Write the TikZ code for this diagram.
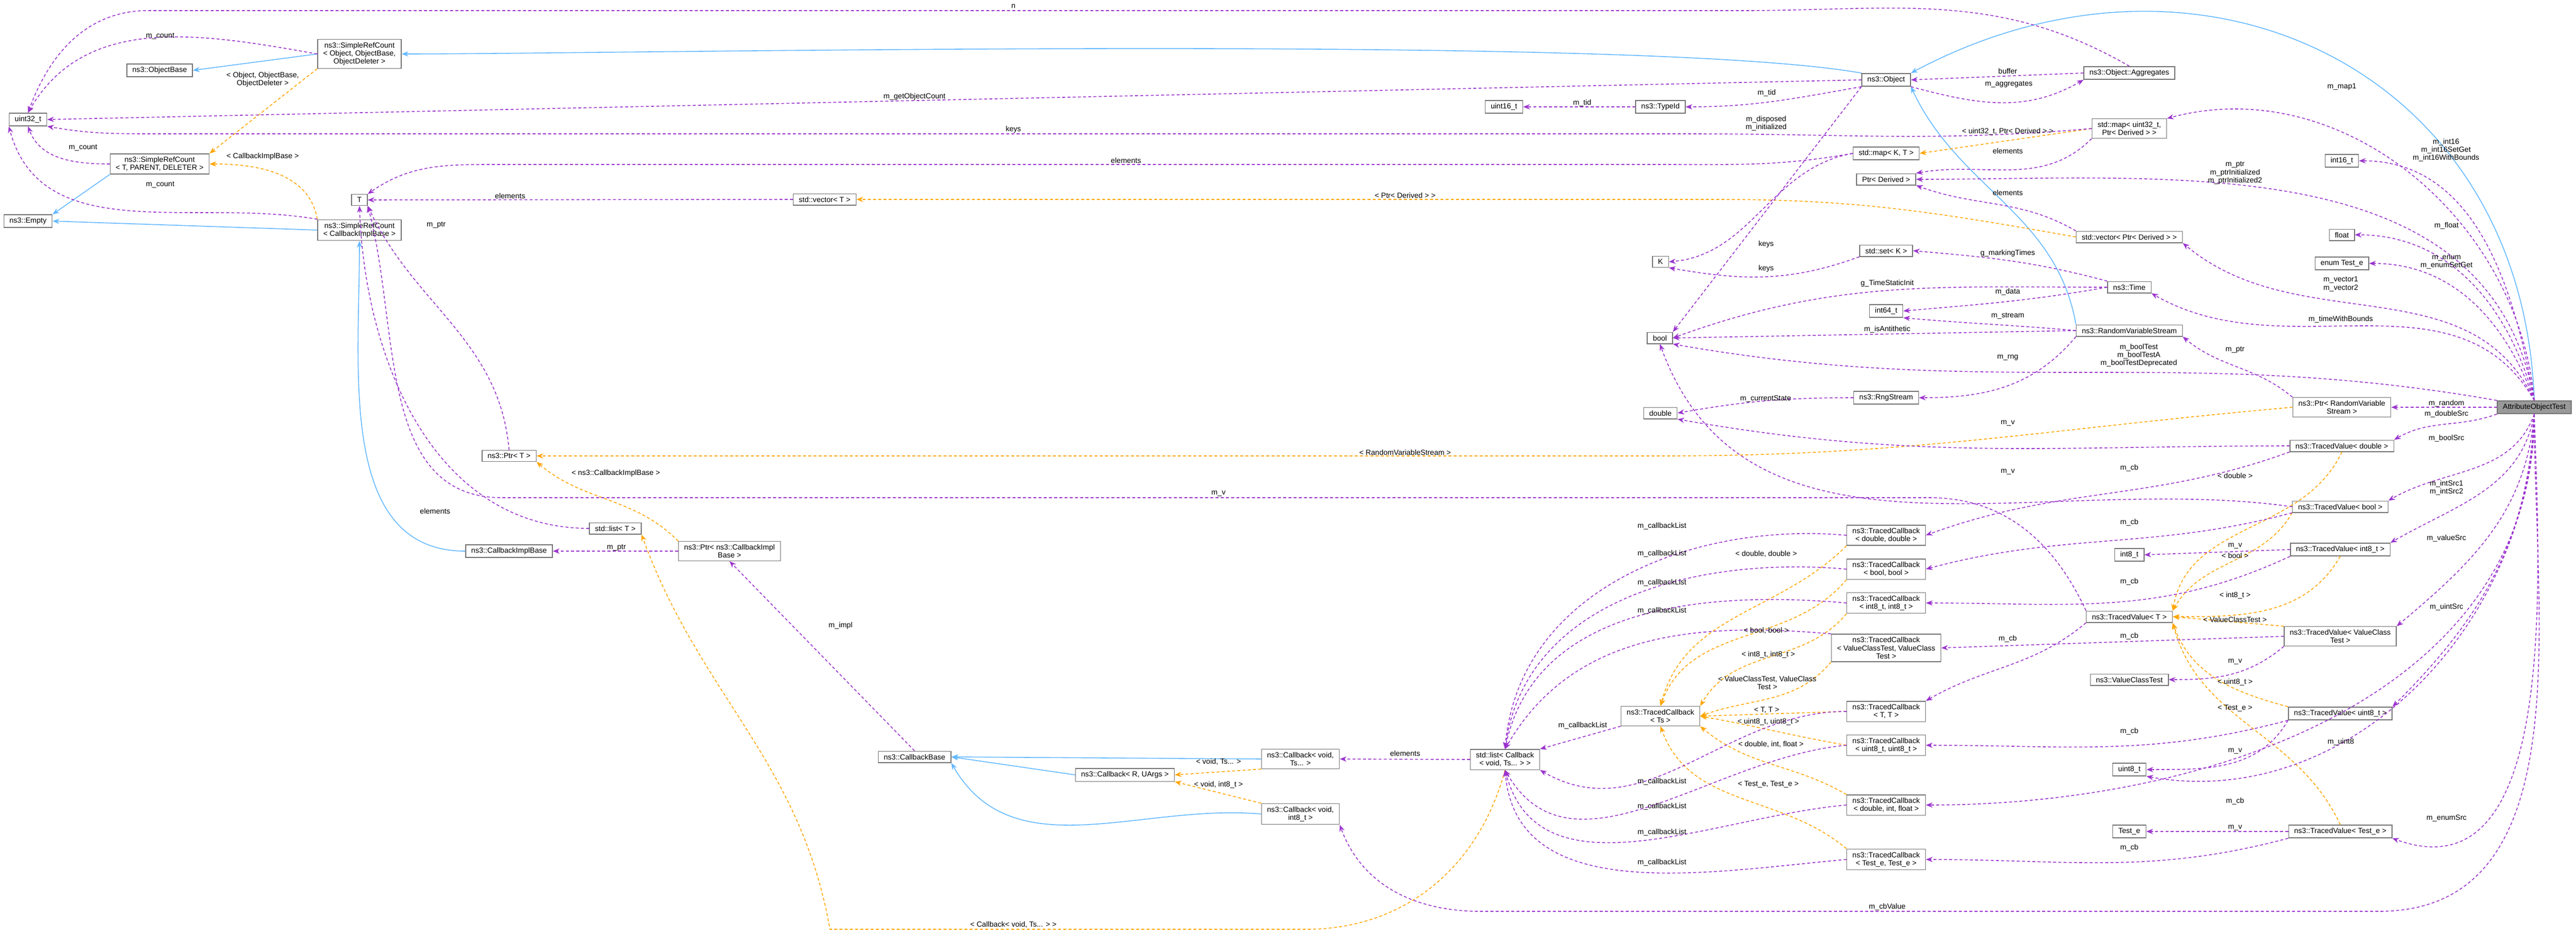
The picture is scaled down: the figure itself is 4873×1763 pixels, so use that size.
\documentclass[tikz,border=0pt]{standalone}
\usepackage{fontspec}
\setmainfont{Liberation Sans}
\usetikzlibrary{arrows.meta}
\definecolor{mem}{HTML}{9A32CD}
\definecolor{inh}{HTML}{63B8FF}
\definecolor{tpl}{HTML}{FFA500}
\begin{document}
\begin{tikzpicture}[x=0.01cm,y=-0.01cm,
  box/.style={draw=black!55,fill=white,inner xsep=3pt,inner ysep=1.6pt,align=center,font=\fontsize{4}{4.3}\selectfont},
  lab/.style={inner sep=0.3pt,align=center,font=\fontsize{4}{4.3}\selectfont},
  memb/.style={draw=mem,line width=0.45pt,dash pattern=on 1.6pt off 1.2pt,-{Stealth[length=3.6pt,width=2.8pt]}},
  inhb/.style={draw=inh,line width=0.45pt,-{Stealth[length=3.6pt,width=2.8pt]}},
  tplb/.style={draw=tpl,line width=0.45pt,dash pattern=on 1.6pt off 1.2pt,-{Stealth[length=3.6pt,width=2.8pt]}}]
\useasboundingbox (0,0) rectangle (4873,1763);
% left side
\node[box] (uint32) at (53,226) {uint32\_t};
\node[box] (objbase) at (302,133) {ns3::ObjectBase};
\node[box] (srcobj) at (680,102) {ns3::SimpleRefCount\\< Object, ObjectBase,\\ObjectDeleter >};
\node[box] (srcT) at (302,310) {ns3::SimpleRefCount\\< T, PARENT, DELETER >};
\node[box] (empty) at (53,418) {ns3::Empty};
\node[box] (srcC) at (680,435) {ns3::SimpleRefCount\\< CallbackImplBase >};
\node[box] (T) at (680,378) {T};
\node[box] (vecT) at (1560,377) {std::vector< T >};
\node[box] (ptrT) at (963,862) {ns3::Ptr< T >};
\node[box] (listT) at (1164,999) {std::list< T >};
\node[box] (cimpl) at (963,1042) {ns3::CallbackImplBase};
\node[box] (ptrC) at (1380,1042) {ns3::Ptr< ns3::CallbackImpl\\Base >};
% middle
\node[box] (u16) at (2845,202) {uint16\_t};
\node[box] (typeid) at (3141,202) {ns3::TypeId};
\node[box] (K) at (3141,495) {K};
\node[box] (bool) at (3140,639) {bool};
\node[box] (double) at (3141,781) {double};
\node[box] (cbb) at (1730,1431) {ns3::CallbackBase};
\node[box] (cbv) at (2460,1435) {ns3::Callback< void,\\Ts... >};
\node[box] (cbr) at (2128,1465) {ns3::Callback< R, UArgs >};
\node[box] (cbi8) at (2460,1539) {ns3::Callback< void,\\int8\_t >};
\node[box] (listCB) at (2847,1436) {std::list< Callback\\< void, Ts... > >};
\node[box] (tcTs) at (3141,1354) {ns3::TracedCallback\\< Ts >};
% right side
\node[box] (object) at (3568,151) {ns3::Object};
\node[box] (agg) at (4028,138) {ns3::Object::Aggregates};
\node[box] (mapu) at (4028,243) {std::map< uint32\_t,\\Ptr< Derived > >};
\node[box] (mapKT) at (3568,290) {std::map< K, T >};
\node[box] (ptrD) at (3568,339) {Ptr< Derived >};
\node[box] (i16) at (4430,304) {int16\_t};
\node[box] (vecPD) at (4028,448) {std::vector< Ptr< Derived > >};
\node[box] (float) at (4430,444) {float};
\node[box] (enum) at (4430,498) {enum Test\_e};
\node[box] (setK) at (3568,474) {std::set< K >};
\node[box] (time) at (4028,543) {ns3::Time};
\node[box] (i64) at (3568,588) {int64\_t};
\node[box] (rvs) at (4028,625) {ns3::RandomVariableStream};
\node[box] (rng) at (3568,752) {ns3::RngStream};
\node[box] (ptrR) at (4430,770) {ns3::Ptr< RandomVariable\\Stream >};
\node[box,fill=black!40] (attr) at (4794,770) {AttributeObjectTest};
\node[box] (tvd) at (4430,843) {ns3::TracedValue< double >};
\node[box] (tcdd) at (3568,1012) {ns3::TracedCallback\\< double, double >};
\node[box] (tcbb) at (3568,1076) {ns3::TracedCallback\\< bool, bool >};
\node[box] (tcii) at (3568,1140) {ns3::TracedCallback\\< int8\_t, int8\_t >};
\node[box] (tcvv) at (3568,1225) {ns3::TracedCallback\\< ValueClassTest, ValueClass\\Test >};
\node[box] (tcTT) at (3568,1345) {ns3::TracedCallback\\< T, T >};
\node[box] (tcuu) at (3568,1409) {ns3::TracedCallback\\< uint8\_t, uint8\_t >};
\node[box] (tcdif) at (3568,1522) {ns3::TracedCallback\\< double, int, float >};
\node[box] (tcee) at (3568,1625) {ns3::TracedCallback\\< Test\_e, Test\_e >};
\node[box] (tvb) at (4427,958) {ns3::TracedValue< bool >};
\node[box] (i8) at (4028,1049) {int8\_t};
\node[box] (tvi8) at (4427,1039) {ns3::TracedValue< int8\_t >};
\node[box] (tvT) at (4028,1166) {ns3::TracedValue< T >};
\node[box] (tvv) at (4427,1203) {ns3::TracedValue< ValueClass\\Test >};
\node[box] (vct) at (4028,1285) {ns3::ValueClassTest};
\node[box] (tvu8) at (4427,1349) {ns3::TracedValue< uint8\_t >};
\node[box] (u8) at (4028,1455) {uint8\_t};
\node[box] (teT) at (4028,1572) {Test\_e};
\node[box] (tve) at (4427,1572) {ns3::TracedValue< Test\_e >};

%%%% inheritance
\draw[inhb] (srcobj.west) -- (objbase.east);
\draw[inhb] (object.north west) to[out=170,in=0,looseness=0.4] (srcobj.east);
\draw[inhb] (attr.north) to[out=92,in=28,looseness=1.2] (object.north east);
\draw[inhb] (rvs.north west) to[out=100,in=-65] (object.south east);
\draw[inhb] (srcT.south west) -- (empty.north east);
\draw[inhb] (srcC.west) -- (empty.east);
\draw[inhb] (cimpl.west) to[out=180,in=-90] (srcC.south);
\draw[inhb] (cbv.west) -- (cbb.east);
\draw[inhb] (cbr.west) -- (cbb.east);
\draw[inhb] (cbi8.west) to[out=175,in=-60] (cbb.south east);

%%%% templates
\draw[tplb] (srcobj.south west) -- (srcT.north east);
\draw[tplb] (srcC.north west) to[out=100,in=0] (srcT.east);
\draw[tplb] (mapu.west) -- (mapKT.east);
\draw[tplb] (vecPD.west) to[out=170,in=0] (3250,377) -- (vecT.east);
\draw[tplb] (ptrR.west) to[out=185,in=0] (3150,862) -- (ptrT.east);
\draw[tplb] (ptrC.north west) to[out=135,in=-40] (ptrT.south east);
\draw[tplb] (listCB.south) to[out=-105,in=0] (2470,1757) -- (1570,1757) to[out=100,in=-70] (listT.south east);
\draw[tplb] (cbv.south west) -- (cbr.east);
\draw[tplb] (cbi8.north west) -- (cbr.south east);
\draw[tplb] (tvd.south) to[out=-115,in=80] (tvT.north east);
\draw[tplb] (tvb.south west) to[out=-120,in=60] (tvT.north east);
\draw[tplb] (tvi8.south) to[out=-120,in=0] (tvT.east);
\draw[tplb] (tvv.north west) -- (tvT.east);
\draw[tplb] (tvu8.north west) to[out=165,in=-70] (tvT.south east);
\draw[tplb] (tve.north) to[out=115,in=-75] (tvT.south east);
\draw[tplb] (tcdd.south west) to[out=-135,in=75] (tcTs.north);
\draw[tplb] (tcbb.south west) to[out=-130,in=70] (tcTs.north);
\draw[tplb] (tcii.south west) to[out=-130,in=60] (tcTs.north east);
\draw[tplb] (tcvv.south west) to[out=-130,in=20] (tcTs.east);
\draw[tplb] (tcTT.west) -- (tcTs.east);
\draw[tplb] (tcuu.west) to[out=170,in=-10] (tcTs.east);
\draw[tplb] (tcdif.north west) to[out=150,in=-40] (tcTs.south east);
\draw[tplb] (tcee.north west) to[out=140,in=-70] (tcTs.south);

%%%% members
\draw[memb] (agg.north) to[out=150,in=0] (3300,20) -- (280,20) to[out=180,in=70] (uint32.north);
\draw[memb] (srcobj.west) to[out=170,in=60] (uint32.north);
\draw[memb] (object.west) -- (uint32.east);
\draw[memb] (mapu.west) to[out=185,in=0] (3200,253) -- (300,253) to[out=180,in=-10] (uint32.south east);
\draw[memb] (mapKT.west) to[out=190,in=0] (3150,311) -- (950,311) to[out=180,in=35] (T.north east);
\draw[memb] (vecT.west) -- (T.east);
\draw[memb] (ptrT.north) to[out=95,in=-65] (T.south east);
\draw[memb] (listT.west) to[out=180,in=-88] (T.south);
\draw[memb] (tvT.north west) to[out=115,in=0] (3650,941) -- (950,941) to[out=180,in=-75] (T.south east);
\draw[memb] (srcT.west) to[out=180,in=-70] (uint32.south);
\draw[memb] (srcC.north west) to[out=170,in=-75] (uint32.south west);
\draw[memb] (typeid.west) -- (u16.east);
\draw[memb] (object.south west) to[out=190,in=0] (typeid.east);
\draw[memb] (agg.west) -- (object.east);
\draw[memb] (object.south east) to[out=-15,in=-150] (agg.south west);
\draw[memb] (object.south west) -- (bool.north east);
\draw[memb] (mapu.south west) to[out=-135,in=10] (ptrD.north east);
\draw[memb] (attr.north) to[out=95,in=15] (mapu.north east);
\draw[memb] (attr.north) to[out=100,in=0] (i16.east);
\draw[memb] (attr.north) to[out=100,in=0] (ptrD.east);
\draw[memb] (vecPD.north west) to[out=150,in=-20] (ptrD.south east);
\draw[memb] (mapKT.west) to[out=190,in=5] (K.east);
\draw[memb] (setK.south west) to[out=200,in=-10] (K.south east);
\draw[memb] (attr.north) to[out=105,in=0] (float.east);
\draw[memb] (attr.north) to[out=110,in=0] (enum.east);
\draw[memb] (attr.north) to[out=115,in=-40] (vecPD.south east);
\draw[memb] (time.north west) to[out=165,in=-5] (setK.east);
\draw[memb] (time.west) to[out=180,in=20] (bool.east);
\draw[memb] (time.west) to[out=190,in=5] (i64.east);
\draw[memb] (attr.north) to[out=120,in=-30] (time.south east);
\draw[memb] (rvs.west) to[out=175,in=-5] (i64.south east);
\draw[memb] (rvs.west) -- (bool.east);
\draw[memb] (rvs.south west) to[out=-130,in=0] (rng.east);
\draw[memb] (attr.north west) to[out=170,in=-10] (bool.south east);
\draw[memb] (ptrR.north west) to[out=140,in=-40] (rvs.south east);
\draw[memb] (rng.west) to[out=180,in=10] (double.east);
\draw[memb] (attr.west) -- (ptrR.east);
\draw[memb] (attr.south west) to[out=200,in=30] (tvd.north east);
\draw[memb] (tvd.west) to[out=180,in=-10] (double.south east);
\draw[memb] (attr.south) to[out=-110,in=30] (tvb.north east);
\draw[memb] (tvb.west) to[out=172,in=-70] (bool.south);
\draw[memb] (tvd.south west) to[out=-160,in=20] (tcdd.east);
\draw[memb] (attr.south) to[out=-100,in=30] (tvi8.north east);
\draw[memb] (tvb.south west) to[out=-165,in=15] (tcbb.east);
\draw[memb] (tvi8.west) -- (i8.east);
\draw[memb] (tvi8.south west) to[out=-155,in=0] (tcii.east);
\draw[memb] (attr.south) to[out=-95,in=40] (tvv.north east);
\draw[memb] (tvv.west) -- (tcvv.east);
\draw[memb] (tvT.south west) to[out=-140,in=30] (tcTT.north east);
\draw[memb] (tvv.south west) to[out=-140,in=0] (vct.east);
\draw[memb] (attr.south) to[out=-93,in=45] (tvu8.north east);
\draw[memb] (tvu8.south west) to[out=-165,in=0] (tcuu.east);
\draw[memb] (tvu8.south west) to[out=-120,in=0] (u8.east);
\draw[memb] (attr.south) to[out=-91,in=-10] (u8.south east);
\draw[memb] (attr.south) to[out=-90,in=0] (tcdif.east);
\draw[memb] (tve.west) -- (teT.east);
\draw[memb] (attr.south) to[out=-88,in=-20] (tve.south east);
\draw[memb] (tve.south west) to[out=-165,in=0] (tcee.east);
\draw[memb] (attr.south) to[out=-90,in=0] (4500,1723) -- (2800,1723) to[out=180,in=-70] (cbi8.south east);
\draw[memb] (tcdd.west) to[out=175,in=85] (listCB.north);
\draw[memb] (tcbb.west) to[out=175,in=82] (listCB.north);
\draw[memb] (tcii.west) to[out=175,in=78] (listCB.north);
\draw[memb] (tcvv.north west) to[out=175,in=60] (listCB.north);
\draw[memb] (tcTs.south west) -- (listCB.north east);
\draw[memb] (tcTT.west) to[out=180,in=-30] (listCB.south east);
\draw[memb] (tcuu.west) to[out=185,in=-60] (listCB.south);
\draw[memb] (tcdif.west) to[out=185,in=-75] (listCB.south);
\draw[memb] (tcee.west) to[out=185,in=-85] (listCB.south);
\draw[memb] (listCB.west) -- (cbv.east);
\draw[memb] (cbb.north) -- (ptrC.south);
\draw[memb] (ptrC.west) -- (cimpl.east);

%%%% labels
\node[lab] (lbn) at (1917,12) {n};
\node[lab] (lb1) at (303,68) {m\_count};
\node[lab] (lb2) at (1730,183) {m\_getObjectCount};
\node[lab] (lb3) at (1917,245) {keys};
\node[lab] (lb4) at (2130,303) {elements};
\node[lab] (lb5) at (965,370) {elements};
\node[lab] (lb6) at (2658,369) {< Ptr< Derived > >};
\node[lab] (lb7) at (825,425) {m\_ptr};
\node[lab] (lb8) at (497,150) {< Object, ObjectBase,\\ObjectDeleter >};
\node[lab] (lb9) at (497,296) {< CallbackImplBase >};
\node[lab] (lb10) at (157,279) {m\_count};
\node[lab] (lb11) at (303,349) {m\_count};
\node[lab] (lb12) at (2658,855) {< RandomVariableStream >};
\node[lab] (lb13) at (1165,895) {< ns3::CallbackImplBase >};
\node[lab] (lb14) at (2305,933) {m\_v};
\node[lab] (lb15) at (823,966) {elements};
\node[lab] (lb16) at (1166,1035) {m\_ptr};
\node[lab] (lb17) at (1590,1183) {m\_impl};
\node[lab] (lb18) at (2658,1424) {elements};
\node[lab] (lb19) at (2305,1440) {< void, Ts... >};
\node[lab] (lb20) at (2305,1484) {< void, int8\_t >};
\node[lab] (lb21) at (1917,1748) {< Callback< void, Ts... > >};
\foreach \yy in {995,1047,1102,1155,1478,1525,1574,1631}
  \node[lab] at (3144,\yy) {m\_callbackList};
\node[lab] (lb22) at (2994,1372) {m\_callbackList};
\node[lab] (lb23) at (2993,195) {m\_tid};
\node[lab] (lb24) at (3342,176) {m\_tid};
\node[lab] (lb25) at (3798,134) {buffer};
\node[lab] (lb26) at (3800,159) {m\_aggregates};
\node[lab] (lb27) at (3341,233) {m\_disposed\\m\_initialized};
\node[lab] (lb28) at (3798,249) {< uint32\_t, Ptr< Derived > >};
\node[lab] (lb29) at (3798,285) {elements};
\node[lab] (lb30) at (4430,164) {m\_map1};
\node[lab] (lb31) at (4627,284) {m\_int16\\m\_int16SetGet\\m\_int16WithBounds};
\node[lab] (lb32) at (4228,327) {m\_ptr\\m\_ptrInitialized\\m\_ptrInitialized2};
\node[lab] (lb33) at (3798,364) {elements};
\node[lab] (lb34) at (3341,462) {keys};
\node[lab] (lb35) at (3341,508) {keys};
\node[lab] (lb36) at (4628,427) {m\_float};
\node[lab] (lb37) at (4628,496) {m\_enum\\m\_enumSetGet};
\node[lab] (lb38) at (4428,537) {m\_vector1\\m\_vector2};
\node[lab] (lb39) at (3798,479) {g\_markingTimes};
\node[lab] (lb40) at (3570,536) {g\_TimeStaticInit};
\node[lab] (lb41) at (3798,552) {m\_data};
\node[lab] (lb42) at (4428,604) {m\_timeWithBounds};
\node[lab] (lb43) at (3798,597) {m\_stream};
\node[lab] (lb44) at (3570,623) {m\_isAntithetic};
\node[lab] (lb45) at (3798,676) {m\_rng};
\node[lab] (lb46) at (4046,672) {m\_boolTest\\m\_boolTestA\\m\_boolTestDeprecated};
\node[lab] (lb47) at (4228,661) {m\_ptr};
\node[lab] (lb48) at (3340,754) {m\_currentState};
\node[lab] (lb49) at (4628,763) {m\_random};
\node[lab] (lb50) at (4628,783) {m\_doubleSrc};
\node[lab] (lb51) at (3798,800) {m\_v};
\node[lab] (lb52) at (4228,899) {< double >};
\node[lab] (lb53) at (4628,829) {m\_boolSrc};
\node[lab] (lb54) at (4028,885) {m\_cb};
\node[lab] (lb55) at (3798,892) {m\_v};
\node[lab] (lb56) at (4628,922) {m\_intSrc1\\m\_intSrc2};
\node[lab] (lb57) at (4028,988) {m\_cb};
\node[lab] (lb58) at (4628,1018) {m\_valueSrc};
\node[lab] (lb59) at (4228,1032) {m\_v};
\node[lab] (lb60) at (4228,1050) {< bool >};
\node[lab] (lb61) at (4028,1100) {m\_cb};
\node[lab] (lb62) at (4228,1126) {< int8\_t >};
\node[lab] (lb63) at (4228,1171) {< ValueClassTest >};
\node[lab] (lb64) at (3798,1208) {m\_cb};
\node[lab] (lb65) at (4028,1203) {m\_cb};
\node[lab] (lb66) at (4628,1148) {m\_uintSrc};
\node[lab] (lb67) at (4228,1251) {m\_v};
\node[lab] (lb68) at (4228,1290) {< uint8\_t >};
\node[lab] (lb69) at (4228,1339) {< Test\_e >};
\node[lab] (lb70) at (4028,1383) {m\_cb};
\node[lab] (lb71) at (4428,1403) {m\_uint8};
\node[lab] (lb72) at (4228,1420) {m\_v};
\node[lab] (lb73) at (4228,1515) {m\_cb};
\node[lab] (lb74) at (4628,1547) {m\_enumSrc};
\node[lab] (lb75) at (4228,1565) {m\_v};
\node[lab] (lb76) at (4028,1603) {m\_cb};
\node[lab] (lb77) at (3570,1715) {m\_cbValue};
\node[lab] (lb78) at (3341,1047) {< double, double >};
\node[lab] (lb79) at (3341,1192) {< bool, bool >};
\node[lab] (lb80) at (3345,1238) {< int8\_t, int8\_t >};
\node[lab] (lb81) at (3343,1291) {< ValueClassTest, ValueClass\\Test >};
\node[lab] (lb82) at (3342,1343) {< T, T >};
\node[lab] (lb83) at (3345,1365) {< uint8\_t, uint8\_t >};
\node[lab] (lb84) at (3350,1407) {< double, int, float >};
\node[lab] (lb85) at (3345,1483) {< Test\_e, Test\_e >};
\end{tikzpicture}
\end{document}
